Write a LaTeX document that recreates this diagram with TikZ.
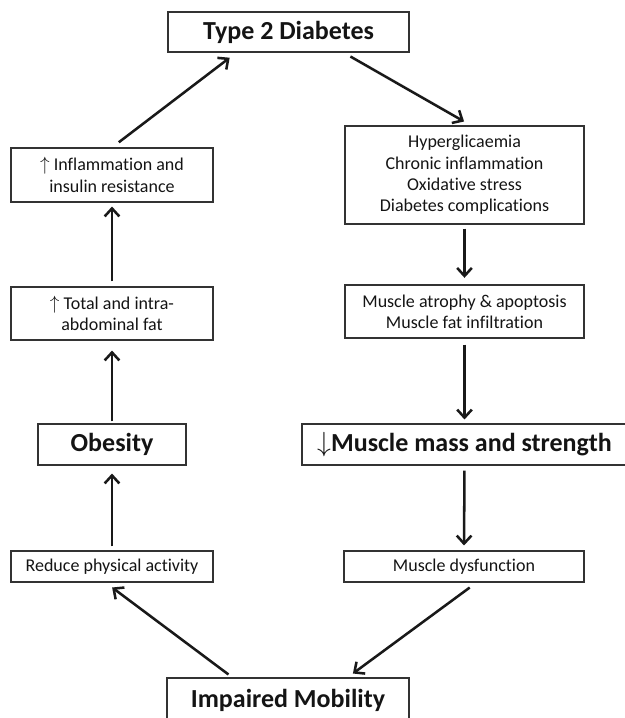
\documentclass[tikz,border=0pt]{standalone}
\usepackage{fontspec}
\setmainfont{Carlito}[Ligatures=NoCommon]
\usetikzlibrary{arrows.meta,calc}
\begin{document}
\begin{tikzpicture}[x=0.75pt,y=-0.75pt,
  box/.style={draw=black!80, line width=0.8pt, rectangle, inner sep=0pt, align=center, text=black!92, font=\fontsize{13.5}{16}\selectfont},
  bigbox/.style={box, font=\fontsize{19.5}{23}\selectfont\bfseries},
  arr/.style={draw=black!90, line width=1.9pt, -{Straight Barb[length=6pt,width=11pt]}}]
\useasboundingbox (0,0) rectangle (625,718);
\clip (0,0) rectangle (625,718);

\node[bigbox, minimum width=180.75pt, minimum height=30pt] (t2d) at (288.5,32) {Type 2 Diabetes};
\node[box, minimum width=151.5pt, minimum height=40.5pt] (infl) at (112,175) {$\uparrow$ Inflammation and\\insulin resistance};
\node[box, minimum width=179.25pt, minimum height=73.5pt] (hyper) at (464.5,175) {Hyperglicaemia\\Chronic inflammation\\Oxidative stress\\Diabetes complications};
\node[box, minimum width=151.5pt, minimum height=39.75pt] (fat) at (112,313.5) {$\uparrow$ Total and intra-\\abdominal fat};
\node[box, minimum width=179.25pt, minimum height=39.75pt] (atrophy) at (464.5,311.5) {Muscle atrophy \& apoptosis\\Muscle fat infiltration};
\node[bigbox, minimum width=111pt, minimum height=30.75pt] (obesity) at (112,444.5) {Obesity};
\node[bigbox, minimum width=243.75pt, minimum height=30.75pt] (mass) at (464.5,444.5) {$\downarrow$Muscle mass and strength};
\node[box, minimum width=151.5pt, minimum height=23.25pt] (reduce) at (112,566.5) {Reduce physical activity};
\node[box, minimum width=180pt, minimum height=23.25pt] (dysf) at (464,566.5) {Muscle dysfunction};
\node[bigbox, minimum width=181.5pt, minimum height=33pt] (imp) at (288,700) {Impaired Mobility};

\draw[arr, shorten <=3.75pt, shorten >=3pt] (fat.north) -- (infl.south);
\draw[arr, shorten <=6.4pt, shorten >=6.4pt] (infl.north) -- ($(t2d.south west)+(69,0)$);
\draw[arr, shorten <=6pt, shorten >=6pt] ($(t2d.south west)+(176,0)$) -- ($(hyper.north)+(6.5,0)$);
\draw[arr, shorten <=3pt, shorten >=5pt] (hyper.south) -- (atrophy.north);
\draw[arr, shorten <=4.5pt, shorten >=3pt] (atrophy.south) -- (mass.north);
\draw[arr, shorten <=3.75pt, shorten >=3.75pt] (mass.south) -- (dysf.north);
\draw[arr, shorten <=6.3pt, shorten >=5pt] ($(dysf.south)+(12.5,0)$) -- ($(imp.north east)+(-62,0)$);
\draw[arr, shorten <=3.75pt, shorten >=6.2pt] ($(imp.north west)+(66,0)$) -- ($(reduce.south)+(-6.5,0)$);
\draw[arr, shorten <=3pt, shorten >=6pt] (reduce.north) -- (obesity.south);
\draw[arr, shorten <=1.5pt, shorten >=7.5pt] (obesity.north) -- (fat.south);
\end{tikzpicture}
\end{document}
